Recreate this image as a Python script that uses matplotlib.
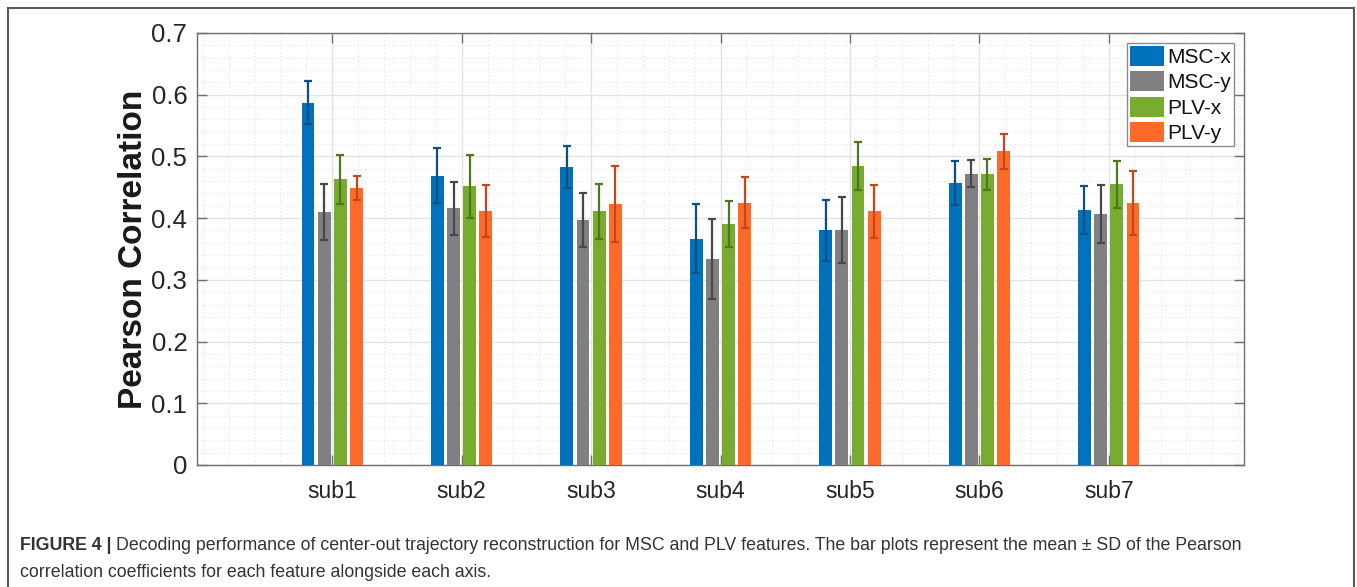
import numpy as np
import matplotlib
matplotlib.use("Agg")
import matplotlib.pyplot as plt
from matplotlib.ticker import MultipleLocator, FixedLocator, FuncFormatter
from matplotlib.lines import Line2D

# ---------------- data ----------------
subjects = ["sub1", "sub2", "sub3", "sub4", "sub5", "sub6", "sub7"]
series_names = ["MSC-x", "MSC-y", "PLV-x", "PLV-y"]
msc_x = [0.587, 0.469, 0.483, 0.367, 0.380, 0.457, 0.413]
msc_x_sd = [0.035, 0.045, 0.034, 0.056, 0.049, 0.035, 0.039]
msc_y = [0.410, 0.416, 0.397, 0.334, 0.381, 0.472, 0.406]
msc_y_sd = [0.045, 0.043, 0.043, 0.065, 0.054, 0.022, 0.047]
plv_x = [0.463, 0.452, 0.411, 0.391, 0.485, 0.471, 0.455]
plv_x_sd = [0.040, 0.051, 0.044, 0.037, 0.039, 0.025, 0.038]
plv_y = [0.449, 0.411, 0.423, 0.425, 0.411, 0.508, 0.425]
plv_y_sd = [0.019, 0.042, 0.061, 0.041, 0.043, 0.028, 0.052]
y_ticks = [0, 0.1, 0.2, 0.3, 0.4, 0.5, 0.6, 0.7]

means = [msc_x, msc_y, plv_x, plv_y]
sds = [msc_x_sd, msc_y_sd, plv_x_sd, plv_y_sd]
bar_colors = ["#0072BD", "#808080", "#77AC30", "#FF6A2A"]
err_colors = ["#0B4F85", "#474747", "#4B7A1C", "#C2471A"]

caption_bold = "FIGURE 4 |"
caption_rest1 = ("Decoding performance of center-out trajectory reconstruction for MSC and PLV features. "
                 "The bar plots represent the mean \u00b1 SD of the Pearson")
caption_line2 = "correlation coefficients for each feature alongside each axis."

# ---------------- figure ----------------
W, H = 1357, 587
fig = plt.figure(figsize=(W / 100, H / 100), dpi=100)
fig.patch.set_facecolor("white")

ax_l, ax_r, ax_t, ax_b = 197, 1244, 33, 465
ax = fig.add_axes([ax_l / W, 1 - ax_b / H, (ax_r - ax_l) / W, (ax_b - ax_t) / H])

x = np.arange(1, len(subjects) + 1)
bar_w = 0.10
step = 0.125
offsets = (np.arange(4) - 1.5) * step

for i in range(4):
    ax.bar(x + offsets[i], means[i], width=bar_w, color=bar_colors[i],
           label=series_names[i], zorder=3, linewidth=0)
    ax.errorbar(x + offsets[i], means[i], yerr=sds[i], fmt="none",
                ecolor=err_colors[i], elinewidth=1.6, capsize=3.2,
                capthick=1.6, zorder=4)

ax.set_xlim(-0.045, 8.045)
ax.set_ylim(0, 0.7)
ax.xaxis.set_major_locator(FixedLocator(x))
ax.set_xticklabels(subjects)
ax.xaxis.set_minor_locator(MultipleLocator(0.2))
ax.yaxis.set_major_locator(FixedLocator(y_ticks))
ax.yaxis.set_major_formatter(FuncFormatter(lambda v, p: f"{v:g}"))
ax.yaxis.set_minor_locator(MultipleLocator(0.02))

ax.set_axisbelow(True)
ax.grid(which="major", color="#e3e3e3", linewidth=1.0, linestyle="-", zorder=0)
ax.grid(which="minor", color="#e2e2e2", linewidth=0.8, linestyle=(0, (1, 2.5)), zorder=0)

axis_col = "#6e6e6e"
for s in ax.spines.values():
    s.set_color(axis_col)
    s.set_linewidth(1.0)

ax.tick_params(which="major", direction="in", length=7, width=1.0, color=axis_col,
               top=True, right=True, labelcolor="#262626")
ax.tick_params(which="minor", length=0, top=True, right=True)
ax.tick_params(axis="y", labelsize=18.5, pad=7)
ax.tick_params(axis="x", labelsize=16.5, pad=11)
for lab in ax.get_xticklabels() + ax.get_yticklabels():
    lab.set_family(["Liberation Sans", "DejaVu Sans"])

ax.set_ylabel("Pearson Correlation", fontsize=24, fontweight="bold",
              family=["Liberation Sans", "DejaVu Sans"], color="#1a1a1a")
ax.yaxis.set_label_coords(-0.061, 0.5)
ax.yaxis.label.set_va("center")

leg = ax.legend(loc="upper right", bbox_to_anchor=(0.9904, 0.977), borderaxespad=0,
                fancybox=False, framealpha=1, edgecolor="#8a8a8a",
                prop={"family": ["Liberation Sans", "DejaVu Sans"], "size": 15},
                handlelength=1.6, handleheight=1.1, handletextpad=0.15,
                labelspacing=0.2, borderpad=0.15)
leg.get_frame().set_linewidth(1.0)
for t in leg.get_texts():
    t.set_color("#111111")

# ---------------- outer frame (figure decoration) ----------------
fc = "#5a5a5a"
fig.add_artist(Line2D([8 / W, 8 / W], [0, 1 - 8 / H], color=fc, lw=1.5, transform=fig.transFigure))
fig.add_artist(Line2D([8 / W, 1354 / W], [1 - 8 / H, 1 - 8 / H], color=fc, lw=1.5, transform=fig.transFigure))
fig.add_artist(Line2D([1354 / W, 1354 / W], [0, 1 - 8 / H], color=fc, lw=1.5, transform=fig.transFigure))

# ---------------- caption ----------------
cap_col = "#333333"
fam = ["Liberation Sans", "DejaVu Sans"]
cap_fs = 13.4
x0 = 20 / W
tb = fig.text(x0, 1 - 550 / H, caption_bold, fontsize=cap_fs, fontweight="bold",
              family=fam, color=cap_col, va="baseline", ha="left")
fig.canvas.draw()
r = fig.canvas.get_renderer()
bb = tb.get_window_extent(r)
t1 = fig.text(bb.x1 / W + 5 / W, 1 - 550 / H, caption_rest1, fontsize=cap_fs,
              family=fam, color=cap_col, va="baseline", ha="left")
t2 = fig.text(x0, 1 - 577 / H, caption_line2, fontsize=cap_fs,
              family=fam, color=cap_col, va="baseline", ha="left")
# fit caption line 1 to its width in the reference
fig.canvas.draw()
target_right = 1243
cur_right = t1.get_window_extent(r).x1
scale = (target_right - 20) / (cur_right - 20)
new_fs = cap_fs * scale
tb.set_fontsize(new_fs)
t2.set_fontsize(new_fs)
t1.set_fontsize(new_fs)
fig.canvas.draw()
bb = tb.get_window_extent(r)
t1.set_x(bb.x1 / W + 5 / W)

fig.savefig("out.png", dpi=100, facecolor="white")
